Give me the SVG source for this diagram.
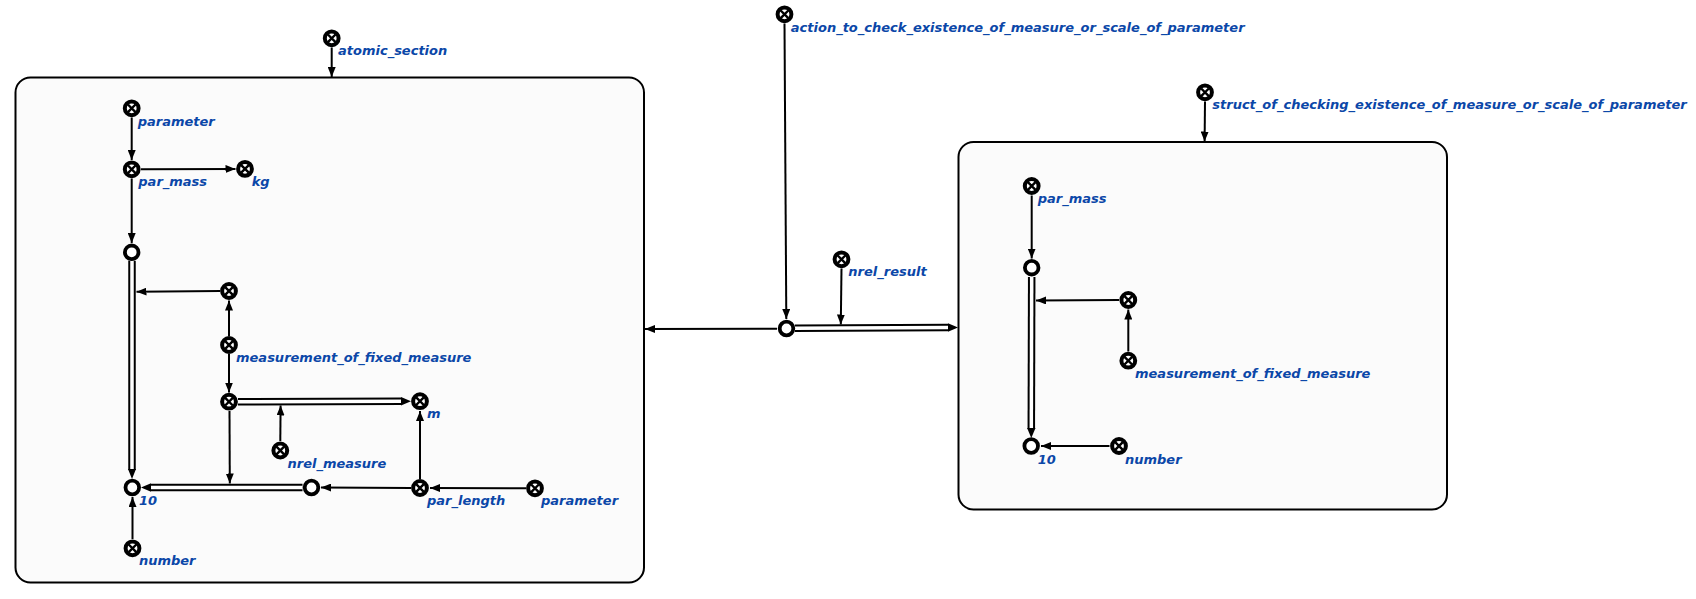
<svg xmlns="http://www.w3.org/2000/svg" xmlns:xlink="http://www.w3.org/1999/xlink" width="1696" height="599" viewBox="0 0 1696 599">
  <style>
    .box { fill: #fbfbfb; stroke: #000; stroke-width: 2; }
    .arc { fill: none; stroke: #000; stroke-width: 2; marker-end: url(#arrow); }
    .pair-out { fill: none; stroke: #000; stroke-width: 7.5; }
    .pair-in { fill: none; stroke: #fff; stroke-width: 3.5; }
    .lbl { font-family: "DejaVu Sans", "Liberation Sans", sans-serif; font-weight: bold; font-style: italic; font-size: 13px; fill: #0b47a8; }
  </style>
  <defs>
    <marker id="arrow" viewBox="0 0 10 8" refX="10" refY="4" markerWidth="10" markerHeight="8" markerUnits="userSpaceOnUse" orient="auto">
      <path d="M0,0 L10,4 L0,8 Z" fill="#000"/>
    </marker>
    <!-- constant node: ring with a cross -->
    <g id="cnode">
      <circle r="6.9" fill="#fff" stroke="#000" stroke-width="4"/>
      <path d="M-3.8,-3.8 L3.8,3.8 M-3.8,3.8 L3.8,-3.8" stroke="#000" stroke-width="2.4"/>
    </g>
    <!-- tuple node: plain ring -->
    <g id="tnode">
      <circle r="6.8" fill="#fff" stroke="#000" stroke-width="3.8"/>
    </g>
  </defs>

  <!-- structures -->
  <g id="struct_left">
    <rect class="box" x="15.5" y="77.5" width="628.5" height="505" rx="15"/>
  </g>
  <g id="struct_right">
    <rect class="box" x="958.5" y="142" width="488.5" height="367.5" rx="15"/>
  </g>

  <!-- connectors -->
  <g id="connectors">
    <!-- common (pair) arcs: thick outline with white core -->
    <g>
      <path class="pair-out" d="M132,261 L132,470"/>
      <path class="pair-in" d="M132,261 L132,469"/>
      <path d="M128,469 L136,469 L132,479 Z" fill="#000"/>

      <path class="pair-out" d="M238,401.7 L401,401.2"/>
      <path class="pair-in" d="M238,401.7 L402,401.2"/>
      <path d="M401,397 L401,405.4 L411,401.2 Z" fill="#000"/>

      <path class="pair-out" d="M302.5,487.5 L151,487.5"/>
      <path class="pair-in" d="M302.5,487.5 L150,487.5"/>
      <path d="M151,483.3 L151,491.7 L141,487.5 Z" fill="#000"/>

      <path class="pair-out" d="M795,328.3 L948,327.5"/>
      <path class="pair-in" d="M795,328.3 L949,327.5"/>
      <path d="M948,323.3 L948,331.7 L958,327.5 Z" fill="#000"/>

      <path class="pair-out" d="M1031.7,277 L1031.3,429"/>
      <path class="pair-in" d="M1031.7,277 L1031.3,428"/>
      <path d="M1027.1,428 L1035.5,428 L1031.3,438 Z" fill="#000"/>
    </g>
    <!-- ordinary arcs -->
    <line class="arc" x1="331.7" y1="47.5" x2="331.7" y2="77"/>
    <line class="arc" x1="131.7" y1="117.5" x2="131.7" y2="160"/>
    <line class="arc" x1="141" y1="169.3" x2="235.5" y2="168.9"/>
    <line class="arc" x1="131.7" y1="178.5" x2="131.7" y2="243"/>
    <line class="arc" x1="220" y1="291" x2="136.5" y2="291.7"/>
    <line class="arc" x1="229" y1="336" x2="229" y2="300.5"/>
    <line class="arc" x1="229" y1="354" x2="229" y2="392.5"/>
    <line class="arc" x1="280.3" y1="441" x2="280.6" y2="405.5"/>
    <line class="arc" x1="229.5" y1="411" x2="229.8" y2="483.5"/>
    <line class="arc" x1="411" y1="488" x2="321" y2="487.5"/>
    <line class="arc" x1="526" y1="488.3" x2="430" y2="488"/>
    <line class="arc" x1="420" y1="479" x2="420" y2="411"/>
    <line class="arc" x1="132.5" y1="539" x2="132.5" y2="497"/>

    <line class="arc" x1="784.5" y1="23.5" x2="786.3" y2="319"/>
    <line class="arc" x1="777" y1="328.7" x2="645" y2="329"/>
    <line class="arc" x1="841.5" y1="268.5" x2="840.8" y2="324.5"/>
    <line class="arc" x1="1205" y1="101.5" x2="1204.6" y2="141.5"/>

    <line class="arc" x1="1031.7" y1="195.5" x2="1031.7" y2="258.5"/>
    <line class="arc" x1="1119" y1="300" x2="1036" y2="300.5"/>
    <line class="arc" x1="1128.3" y1="351.5" x2="1128.3" y2="309.5"/>
    <line class="arc" x1="1109.5" y1="446" x2="1041" y2="446"/>
  </g>

  <!-- nodes -->
  <g id="n_atomic_section"><use xlink:href="#cnode" x="331.7" y="38.3"/><text class="lbl" x="338" y="55">atomic_section</text></g>
  <g id="n_parameter_1"><use xlink:href="#cnode" x="131.7" y="108.3"/><text class="lbl" x="137.7" y="126">parameter</text></g>
  <g id="n_par_mass_1"><use xlink:href="#cnode" x="131.7" y="169.3"/><text class="lbl" x="138.3" y="186">par_mass</text></g>
  <g id="n_kg"><use xlink:href="#cnode" x="245" y="168.9"/><text class="lbl" x="251.7" y="186">kg</text></g>
  <g id="n_tuple_1"><use xlink:href="#tnode" x="131.7" y="252.3"/></g>
  <g id="n_pair_1"><use xlink:href="#cnode" x="229" y="291"/></g>
  <g id="n_measurement_1"><use xlink:href="#cnode" x="229" y="345"/><text class="lbl" x="236" y="361.5">measurement_of_fixed_measure</text></g>
  <g id="n_pair_2"><use xlink:href="#cnode" x="229" y="401.7"/></g>
  <g id="n_m"><use xlink:href="#cnode" x="420" y="401.2"/><text class="lbl" x="427" y="418">m</text></g>
  <g id="n_nrel_measure"><use xlink:href="#cnode" x="280.3" y="450.5"/><text class="lbl" x="287.5" y="468">nrel_measure</text></g>
  <g id="n_10_1"><use xlink:href="#tnode" x="132.3" y="487.5"/><text class="lbl" x="138.9" y="504.5">10</text></g>
  <g id="n_tuple_2"><use xlink:href="#tnode" x="311.5" y="487.5"/></g>
  <g id="n_par_length"><use xlink:href="#cnode" x="420" y="488"/><text class="lbl" x="427" y="505">par_length</text></g>
  <g id="n_parameter_2"><use xlink:href="#cnode" x="535" y="488.3"/><text class="lbl" x="541" y="505">parameter</text></g>
  <g id="n_number_1"><use xlink:href="#cnode" x="132.5" y="548.3"/><text class="lbl" x="138.9" y="565">number</text></g>

  <g id="n_action"><use xlink:href="#cnode" x="784.5" y="14.3"/><text class="lbl" x="790.8" y="32">action_to_check_existence_of_measure_or_scale_of_parameter</text></g>
  <g id="n_nrel_result"><use xlink:href="#cnode" x="841.5" y="259.3"/><text class="lbl" x="848.3" y="276">nrel_result</text></g>
  <g id="n_action_instance"><use xlink:href="#tnode" x="786.5" y="328.5"/></g>
  <g id="n_struct"><use xlink:href="#cnode" x="1205" y="92.3"/><text class="lbl" x="1212.3" y="109">struct_of_checking_existence_of_measure_or_scale_of_parameter</text></g>

  <g id="n_par_mass_2"><use xlink:href="#cnode" x="1031.7" y="186"/><text class="lbl" x="1037.7" y="203">par_mass</text></g>
  <g id="n_tuple_3"><use xlink:href="#tnode" x="1031.7" y="267.7"/></g>
  <g id="n_pair_3"><use xlink:href="#cnode" x="1128.3" y="300"/></g>
  <g id="n_measurement_2"><use xlink:href="#cnode" x="1128.3" y="360.7"/><text class="lbl" x="1135" y="378">measurement_of_fixed_measure</text></g>
  <g id="n_10_2"><use xlink:href="#tnode" x="1031.2" y="446"/><text class="lbl" x="1037.7" y="463.5">10</text></g>
  <g id="n_number_2"><use xlink:href="#cnode" x="1119" y="446"/><text class="lbl" x="1125" y="463.5">number</text></g>
</svg>
